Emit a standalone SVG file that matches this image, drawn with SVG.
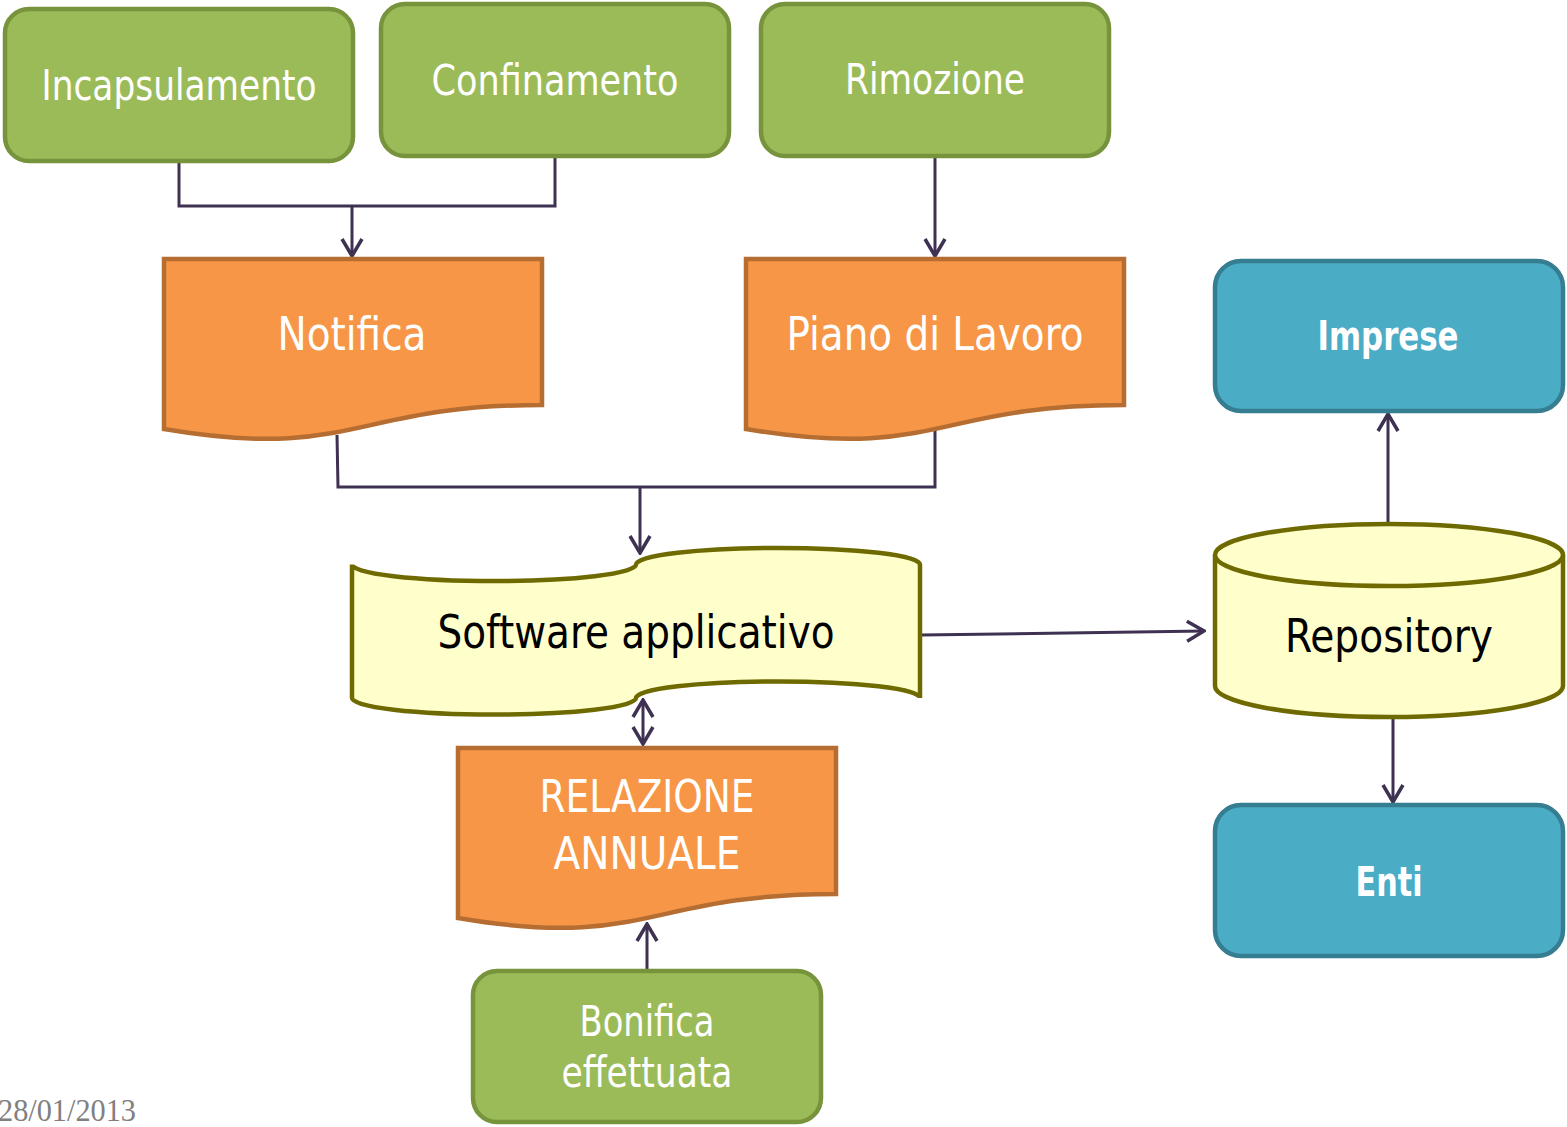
<svg xmlns="http://www.w3.org/2000/svg" width="1567" height="1127" viewBox="0 0 1567 1127">
<defs>
<style>
.green{fill:#9BBB59;stroke:#77933C;stroke-width:4.5}
.orange{fill:#F79646;stroke:#B66D31;stroke-width:4.5}
.yellow{fill:#FFFFCC;stroke:#6F6A00;stroke-width:4.5}
.blue{fill:#4BACC6;stroke:#357D91;stroke-width:4.5}
.t{font-family:"DejaVu Sans Condensed","DejaVu Sans","Liberation Sans",sans-serif;font-stretch:condensed;text-anchor:middle;fill:#fff}
.dark{fill:#000}
.bold{font-weight:bold}
.conn{fill:none;stroke:#3F3151;stroke-width:3}
</style>
<marker id="arr" viewBox="0 0 22 24" refX="20" refY="12" markerWidth="22" markerHeight="24" markerUnits="userSpaceOnUse" orient="auto-start-reverse">
<path d="M3,2 L20,12 L3,22" fill="none" stroke="#3F3151" stroke-width="3.5"/>
</marker>
</defs>
<rect width="1567" height="1127" fill="#fff"/>
<g id="connectors">
<polyline class="conn" points="179,161 179,206 555,206 555,156"/>
<line class="conn" x1="352" y1="206" x2="352" y2="256" marker-end="url(#arr)"/>
<line class="conn" x1="935" y1="156" x2="935" y2="256" marker-end="url(#arr)"/>
<polyline class="conn" points="337,435 338,487 935,487 935,430"/>
<line class="conn" x1="640" y1="487" x2="640" y2="553" marker-end="url(#arr)"/>
<line class="conn" x1="921" y1="635" x2="1204" y2="631" marker-end="url(#arr)"/>
<line class="conn" x1="643" y1="700" x2="643" y2="744" marker-start="url(#arr)" marker-end="url(#arr)"/>
<line class="conn" x1="647" y1="969" x2="647" y2="924" marker-end="url(#arr)"/>
<line class="conn" x1="1388" y1="522" x2="1388" y2="414" marker-end="url(#arr)"/>
<line class="conn" x1="1393" y1="717" x2="1393" y2="802" marker-end="url(#arr)"/>
</g>
<g id="incapsulamento">
<rect class="green" x="5" y="9" width="348" height="152" rx="24"/>
<text class="t" x="179" y="100" font-size="42" textLength="275" lengthAdjust="spacingAndGlyphs">Incapsulamento</text>
</g>
<g id="confinamento">
<rect class="green" x="381" y="4" width="348" height="152" rx="24"/>
<text class="t" x="555" y="95" font-size="42" textLength="247" lengthAdjust="spacingAndGlyphs">Confinamento</text>
</g>
<g id="rimozione">
<rect class="green" x="761" y="4" width="348" height="152" rx="24"/>
<text class="t" x="935" y="94" font-size="42" textLength="180" lengthAdjust="spacingAndGlyphs">Rimozione</text>
</g>
<g id="notifica">
<path class="orange" d="M164,259 H542 V405 C353,405 353,461 164,429 Z"/>
<text class="t" x="352" y="350" font-size="46" textLength="149" lengthAdjust="spacingAndGlyphs">Notifica</text>
</g>
<g id="piano">
<path class="orange" d="M746,259 H1124 V405 C935,405 935,461 746,429 Z"/>
<text class="t" x="935" y="350" font-size="46" textLength="297" lengthAdjust="spacingAndGlyphs">Piano di Lavoro</text>
</g>
<g id="imprese">
<rect class="blue" x="1215" y="261" width="348" height="150" rx="26"/>
<text class="t bold" x="1388" y="350" font-size="40" textLength="141" lengthAdjust="spacingAndGlyphs">Imprese</text>
</g>
<g id="software">
<path class="yellow" d="M352,564.5 A142,16.5 0 0 0 636,564.5 A142,16.5 0 0 1 920,564.5 V698 A142,16.5 0 0 0 636,698 A142,16.5 0 0 1 352,698 Z"/>
<text class="t dark" x="636" y="648" font-size="46" textLength="397" lengthAdjust="spacingAndGlyphs">Software applicativo</text>
</g>
<g id="repository">
<path class="yellow" d="M1215,555 A174,31 0 0 1 1563,555 V686 A174,31 0 0 1 1215,686 Z"/>
<path class="yellow" d="M1215,555 A174,31 0 0 0 1563,555" fill="none"/>
<text class="t dark" x="1389" y="652" font-size="46" textLength="208" lengthAdjust="spacingAndGlyphs">Repository</text>
</g>
<g id="relazione">
<path class="orange" d="M458,748 H836 V894 C647,894 647,950 458,918 Z"/>
<text class="t" x="647" y="812" font-size="44" textLength="215" lengthAdjust="spacingAndGlyphs">RELAZIONE</text>
<text class="t" x="647" y="869" font-size="44" textLength="187" lengthAdjust="spacingAndGlyphs">ANNUALE</text>
</g>
<g id="enti">
<rect class="blue" x="1215" y="805" width="348" height="151" rx="26"/>
<text class="t bold" x="1389" y="896" font-size="40" textLength="67" lengthAdjust="spacingAndGlyphs">Enti</text>
</g>
<g id="bonifica">
<rect class="green" x="473" y="971" width="348" height="151" rx="24"/>
<text class="t" x="647" y="1036" font-size="42" textLength="135" lengthAdjust="spacingAndGlyphs">Bonifica</text>
<text class="t" x="647" y="1087" font-size="42" textLength="171" lengthAdjust="spacingAndGlyphs">effettuata</text>
</g>
<text x="-2" y="1121" font-family="Liberation Serif, serif" font-size="31" fill="#808080" textLength="138" lengthAdjust="spacingAndGlyphs">28/01/2013</text>
</svg>
